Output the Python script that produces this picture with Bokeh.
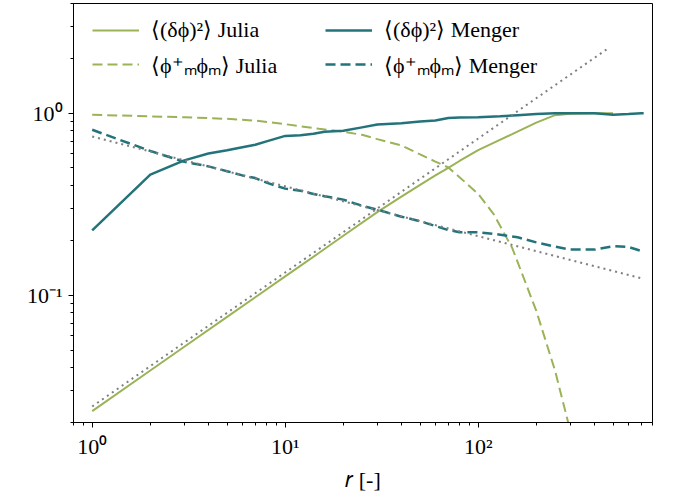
from bokeh.plotting import figure
from bokeh.models import FixedTicker, CustomJSTickFormatter, Legend, LegendItem
from bokeh.embed import file_html
from bokeh.resources import INLINE

# ---------------- data ----------------
r_julia = [1, 2, 3, 5, 7, 10, 15, 20, 30, 40, 50, 60, 70, 80, 100, 120, 150, 200, 250, 300, 400, 500]
dphi2_julia = [0.0231, 0.0386, 0.0521, 0.0760, 0.0975, 0.127, 0.171, 0.212, 0.286, 0.348, 0.404,
               0.455, 0.50, 0.546, 0.627, 0.687, 0.767, 0.887, 0.975, 0.993, 1.0, 1.0]

r_julia_pp = [1, 2, 3, 5, 7, 10, 15, 20, 25, 30, 40, 50, 60, 70, 80, 100, 120, 150, 200, 250, 300]
phipp_julia = [0.98, 0.96, 0.95, 0.93, 0.91, 0.87, 0.82, 0.79, 0.76, 0.72, 0.665, 0.593, 0.542,
               0.503, 0.445, 0.36, 0.28, 0.182, 0.082, 0.0386, 0.018]

r_menger = [1, 2, 3, 4, 5, 6, 7, 8, 10, 12, 14, 16, 20, 25, 30, 40, 50, 60, 70, 80, 100, 130,
            160, 200, 250, 300, 400, 500, 600, 700, 720]
dphi2_menger = [0.227, 0.46, 0.55, 0.60, 0.625, 0.65, 0.67, 0.70, 0.75, 0.755, 0.77, 0.79, 0.80,
                0.835, 0.865, 0.88, 0.90, 0.91, 0.94, 0.945, 0.95, 0.96, 0.975, 0.99, 1.0, 1.0,
                1.0, 0.98, 0.99, 1.0, 1.0]
phipp_menger = [0.81, 0.62, 0.54, 0.51, 0.48, 0.455, 0.44, 0.415, 0.385, 0.375, 0.36, 0.35, 0.335,
                0.31, 0.295, 0.27, 0.255, 0.24, 0.228, 0.222, 0.222, 0.215, 0.208, 0.195, 0.185,
                0.178, 0.178, 0.186, 0.184, 0.175, 0.172]

fit_up_r = [1, 480]
fit_up = [0.0245, 2.3]
fit_down_r = [1, 700]
fit_down = [0.745, 0.124]

x_major = [1, 10, 100]
x_major_labels = ["10⁰", "10¹", "10²"]
x_minor = [0.8, 0.9, 2, 3, 4, 5, 6, 7, 8, 9, 20, 30, 40, 50, 60, 70, 80, 90,
           200, 300, 400, 500, 600, 700, 800]
y_major = [0.1, 1]
y_major_labels = ["10⁻¹", "10⁰"]
y_minor = [0.02, 0.03, 0.04, 0.05, 0.06, 0.07, 0.08, 0.09, 0.2, 0.3, 0.4, 0.5, 0.6, 0.7,
           0.8, 0.9, 2, 3, 4]

labels = ["⟨(δϕ)²⟩ Julia", "⟨ϕ⁺ₘϕₘ⟩ Julia", "⟨(δϕ)²⟩ Menger", "⟨ϕ⁺ₘϕₘ⟩ Menger"]

GREEN = "#9ab357"
TEAL = "#23737a"
GRAY = "#808080"
FONT = "Liberation Serif"

p = figure(x_axis_type="log", y_axis_type="log", x_range=(0.8, 800), y_range=(0.02, 4),
           frame_width=579, frame_height=419, min_border_left=73, min_border_right=20,
           min_border_top=3, min_border_bottom=72, output_backend="svg", toolbar_location=None)

p.xgrid.visible = False
p.ygrid.visible = False
p.outline_line_color = "black"
p.outline_line_width = 1
p.background_fill_color = "white"

r_gs = p.line(r_julia, dphi2_julia, line_color=GREEN, line_width=2)
r_gd = p.line(r_julia_pp, phipp_julia, line_color=GREEN, line_width=2, line_dash="10 5")
r_ts = p.line(r_menger, dphi2_menger, line_color=TEAL, line_width=2.5)
r_td = p.line(r_menger, phipp_menger, line_color=TEAL, line_width=2.5, line_dash="10 5")
p.line(fit_up_r, fit_up, line_color=GRAY, line_width=2, line_dash="2 4")
p.line(fit_down_r, fit_down, line_color=GRAY, line_width=2, line_dash="2 4")

fmt_code = """
for (let i = 0; i < ticks_v.length; i++) {
  if (Math.abs(Math.log10(tick) - Math.log10(ticks_v[i])) < 1e-6) return labs[i];
}
return "";
"""
p.xaxis.ticker = FixedTicker(ticks=x_major, minor_ticks=x_minor)
p.yaxis.ticker = FixedTicker(ticks=y_major, minor_ticks=y_minor)
p.xaxis.formatter = CustomJSTickFormatter(args=dict(ticks_v=x_major, labs=x_major_labels), code=fmt_code)
p.yaxis.formatter = CustomJSTickFormatter(args=dict(ticks_v=y_major, labs=y_major_labels), code=fmt_code)

for ax in (p.xaxis[0], p.yaxis[0]):
    ax.axis_line_color = "black"
    ax.major_tick_line_color = "black"
    ax.minor_tick_line_color = "black"
    ax.major_tick_out = 5
    ax.major_tick_in = 0
    ax.minor_tick_out = 3
    ax.minor_tick_in = 0
    ax.major_label_text_font = FONT
    ax.major_label_text_font_size = "22px"
    ax.major_label_text_color = "black"
    ax.axis_label_text_font = FONT
    ax.axis_label_text_font_size = "22px"
    ax.axis_label_text_font_style = "normal"
    ax.axis_label_text_color = "black"

p.xaxis.axis_label = "𝑟 [-]"
p.xaxis.axis_label_standoff = 5
p.xaxis.major_label_standoff = 6
p.yaxis.major_label_standoff = 6

common = dict(border_line_alpha=0, background_fill_alpha=0, padding=0, margin=0, spacing=6,
              glyph_width=47, glyph_height=22, label_height=22, label_standoff=12,
              label_text_font=FONT, label_text_font_size="22px", label_text_color="black")
leg1 = Legend(items=[LegendItem(label=labels[0], renderers=[r_gs]),
                     LegendItem(label=labels[1], renderers=[r_gd])],
              location=(19, 343), **common)
leg2 = Legend(items=[LegendItem(label=labels[2], renderers=[r_ts]),
                     LegendItem(label=labels[3], renderers=[r_td])],
              location=(252, 343), **common)
p.add_layout(leg1)
p.add_layout(leg2)

open("out.html", "w").write(file_html(p, INLINE))
